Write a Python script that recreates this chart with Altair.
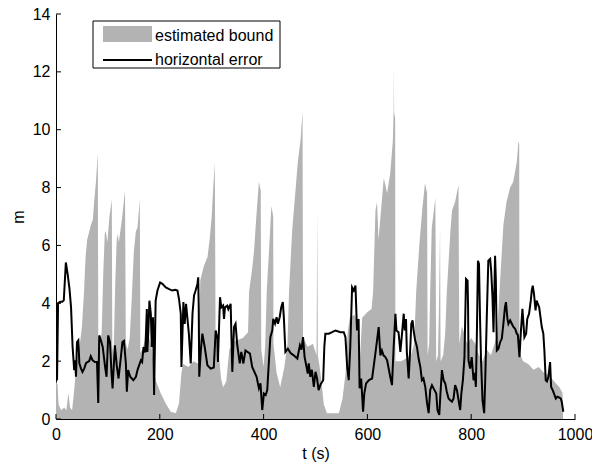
import altair as alt
import pandas as pd

# ---- estimated bound (grey area): (t [s], m) ----
bound = [
    (0, 1.3), (3, 1.2), (5, 0.5), (10, 0.3), (16, 0.4), (20, 0.3), (24, 0.9), (27, 0.4), (31, 0.3),
    (34, 0.8), (38, 1.6), (42, 2.2), (46, 2.6), (50, 3.2), (54, 4.4), (57, 5.6), (60, 6.2), (63, 6.4),
    (67, 6.7), (71, 6.9), (74, 7.6), (77, 8.2), (80.5, 9.2), (81.5, 2.8), (85, 2.6), (88, 3.0), (91, 5.0),
    (94, 6.4), (96, 6.5), (99, 6.1), (103, 7.0), (107.5, 7.6), (108.5, 2.5), (111, 2.2), (114, 4.6),
    (117, 6.2), (119, 6.4), (121, 6.1), (124, 6.5), (127, 6.9), (130, 7.4), (133, 7.9), (134.5, 2.6),
    (138, 2.4), (142, 2.8), (146, 4.2), (150, 5.8), (154, 6.5), (157, 6.6), (161.5, 7.6), (162.5, 2.3),
    (167, 2.4), (172, 2.8), (178, 2.9), (184, 2.5), (188, 1.9), (192, 1.34), (202, 0.88), (211.5, 0.54),
    (221, 0.25), (231, 0.2), (237, 0.54), (241.7, 1.6), (245, 1.9), (255, 1.8), (265, 2.0), (275, 1.9),
    (278, 4.8), (285, 5.3), (292, 5.6), (296, 6.2), (300, 7.0), (303, 8.0), (306, 8.85), (307.5, 2.8),
    (312, 2.6), (318, 1.4), (322, 1.1), (328, 1.3), (334, 2.4), (345, 2.7), (360, 2.8), (370, 3.0),
    (372, 4.4), (378, 5.2), (381.5, 5.8), (386, 7.0), (391, 8.2), (394.5, 7.9), (395.5, 2.4), (400, 1.8),
    (403, 2.5), (406, 4.4), (411, 6.0), (415, 7.36), (418.5, 7.0), (419, 2.6), (425, 1.6), (432, 1.1),
    (440, 1.8), (446, 2.6), (449, 4.4), (455, 6.5), (461, 7.8), (466, 8.9), (471, 9.6), (475, 10.63),
    (476, 2.8), (485, 2.5), (495, 2.6), (502, 2.2), (503.5, 7.2), (504.5, 2.2), (508, 1.8), (512, 1.2),
    (516, 0.5), (522, 0.2), (535, 0.2), (545, 0.2), (552, 0.7), (558, 1.6), (562, 3.0), (566, 3.5),
    (575, 3.6), (580, 3.4), (585, 1.9), (590, 3.5), (600, 3.7), (608, 3.8), (611, 4.4), (615.5, 7.2),
    (618.5, 7.5), (621.5, 6.2), (631.5, 8.33), (634.5, 8.1), (638, 7.8), (644, 8.5), (649, 9.6),
    (650.5, 10.6), (651, 12.2), (651.5, 10.6), (653.5, 10.4), (654, 2.0), (665, 2.0), (675, 2.1),
    (684, 2.2), (690, 2.6), (694, 4.4), (700, 6.0), (706, 7.3), (711, 8.16), (715, 7.8), (716, 2.2),
    (719, 2.6), (721, 4.4), (724, 6.6), (728, 7.2), (731, 7.65), (732.5, 2.0), (736, 2.2), (738, 4.0),
    (740, 6.6), (741, 2.0), (746, 2.2), (750, 3.0), (753, 4.4), (760, 6.5), (763, 7.2), (769, 7.5),
    (775.5, 8.1), (777, 2.6), (782, 3.2), (786, 3.0), (792, 2.6), (800, 2.8), (808, 2.6), (815, 2.2),
    (822, 2.0), (830, 2.4), (838, 2.2), (845, 2.6), (850, 3.0), (854.5, 4.4), (859, 5.8), (862, 6.7),
    (868, 7.5), (875, 8.0), (881, 8.2), (888, 8.9), (891, 9.6), (892.5, 9.5), (893, 2.3), (900, 2.0),
    (910, 1.9), (920, 1.7), (930, 1.8), (940, 1.6), (950, 1.5), (960, 1.3), (970, 1.1), (976, 0.9),
    (977, 0.0),
]

# ---- horizontal error (black line): (t [s], m) ----
error = [
    (2, 1.34), (4, 4.0), (8, 4.05), (12, 4.05), (15, 4.1), (19, 5.41), (22.5, 5.0), (26, 4.5), (29, 3.86),
    (32, 2.49), (34, 1.97), (35, 1.69), (37, 2.03), (38.5, 1.46), (40.4, 2.66), (43, 2.72), (45, 1.93),
    (48, 1.75), (51, 1.63), (54.5, 1.75), (58, 1.94), (64, 2.0), (67, 2.17), (70.5, 2.03), (75, 1.97),
    (79, 1.97), (81.4, 0.55), (83.3, 2.89), (86.5, 2.72), (90, 2.49), (95, 1.74), (97.4, 1.46),
    (100.6, 2.89), (104, 2.66), (107, 1.58), (109, 1.06), (113.5, 2.55), (117, 1.86), (120.5, 1.40),
    (125, 2.14), (128, 2.66), (131, 2.7), (134.6, 1.92), (136.5, 0.94), (139, 1.69), (143, 1.46),
    (149, 1.34), (154, 1.46), (157, 1.69), (163.5, 2.03), (166, 1.97), (168.6, 2.49), (172, 2.3),
    (175, 3.8), (176, 2.32), (178, 3.06), (180, 4.09), (182.7, 3.64), (184.6, 2.49), (187, 3.52),
    (189, 0.83), (192, 4.09), (195.5, 4.44), (200.6, 4.72), (205, 4.67), (211.5, 4.55), (218, 4.49),
    (224, 4.44), (229.5, 4.47), (234, 4.44), (237, 4.15), (240.4, 3.64), (241.7, 1.80), (245.5, 4.04),
    (248, 3.29), (250.6, 3.98), (253, 3.52), (256, 2.95), (259.6, 1.92), (263, 3.64), (266, 4.27),
    (269, 4.44), (272.5, 4.67), (274, 4.9), (275, 3.86), (276, 1.46), (279, 2.37), (282, 2.95),
    (286.5, 2.49), (291.7, 1.86), (298, 1.74), (304, 1.78), (307.7, 3.06), (311, 2.78), (312, 1.97),
    (316, 4.21), (318.6, 3.86), (322, 3.92), (323.7, 3.46), (325.6, 3.86), (330, 3.92), (332, 3.8),
    (336.5, 3.98), (339.7, 1.63), (343, 3.18), (346, 3.29), (349, 2.6), (354, 1.92), (357, 2.32),
    (361, 1.92), (365, 2.37), (373.7, 2.26), (378, 1.80), (386.5, 1.46), (391, 1.06), (394, 1.23),
    (397.4, 0.31), (400.6, 0.88), (404, 0.83), (407, 1.0), (410, 1.92), (413, 2.83), (416.7, 3.06),
    (418.6, 3.46), (422, 3.3), (425, 3.52), (427.6, 3.29), (431, 3.52), (434, 3.86), (437, 4.04),
    (439, 3.52), (442, 2.32), (446.8, 2.43), (452, 2.28), (458, 2.2), (465, 2.09), (470, 2.55),
    (473, 2.4), (476, 2.83), (479, 2.14), (482.7, 1.80), (485, 1.57), (487, 1.92), (490, 1.46),
    (493, 1.7), (496.8, 1.11), (500, 1.63), (503, 1.4), (506, 1.0), (510, 1.2), (514.8, 1.34),
    (517, 2.49), (519, 2.95), (525.6, 2.95), (532, 3.0), (538.5, 3.06), (548, 3.0), (554.5, 3.0),
    (557.7, 2.83), (561, 1.80), (564, 1.34), (567, 2.49), (570.5, 4.55), (573.7, 4.44), (577, 4.61),
    (580, 3.06), (583, 3.46), (585, 1.06), (588, 1.40), (591.7, 0.25), (594, 0.88), (597.5, 1.23),
    (602.6, 1.34), (609, 1.40), (612, 1.80), (617, 2.49), (621.7, 3.18), (625, 2.2), (628, 2.37),
    (631, 2.2), (634.6, 2.14), (638, 2.03), (644, 1.46), (647.4, 1.17), (650.6, 2.49), (654, 3.64),
    (656, 3.06), (660, 3.0), (663.5, 2.32), (666.7, 2.95), (670, 3.64), (672, 3.06), (674.4, 3.46),
    (676, 2.32), (679.5, 1.40), (682.7, 2.49), (684.6, 3.29), (687, 3.41), (689, 3.06), (692, 2.72),
    (695.5, 2.49), (698.7, 2.09), (702, 1.80), (705, 1.34), (708, 1.4), (711.5, 1.11), (715, 0.54),
    (718, 0.20), (721, 1.0), (724.4, 1.17), (727.5, 1.06), (732.7, 0.88), (735, 0.31), (738.5, 0.14),
    (740.4, 0.77), (743.6, 1.69), (746.8, 1.34), (750, 1.23), (753, 0.94), (756.4, 0.71), (759.6, 0.65),
    (763, 0.60), (766, 0.71), (769, 1.17), (772.5, 1.0), (775.6, 0.65), (778.8, 0.31), (781, 0.88),
    (784, 1.34), (787, 2.14), (790, 4.84), (793, 4.78), (794, 3.86), (794.8, 2.03), (798, 1.74),
    (801, 2.14), (804.5, 1.34), (807, 1.6), (809, 1.11), (811, 3.0), (813, 5.47), (815, 5.36),
    (817, 3.5), (819, 2.0), (821.8, 0.65), (825, 0.20), (827, 1.34), (830, 3.5), (833, 5.47),
    (836.5, 5.53), (838.5, 5.13), (841, 4.21), (843, 3.0), (846, 5.64), (847.5, 4.78), (849.4, 2.37),
    (852.5, 2.43), (855.8, 2.66), (859, 2.78), (862, 3.29), (865, 3.86), (867, 4.04), (869.8, 3.46),
    (871.7, 3.29), (875, 3.41), (878, 3.3), (881.4, 3.18), (884.6, 3.12), (887.8, 2.95), (890, 2.9),
    (893, 2.14), (895.5, 2.95), (898.7, 3.81), (902.5, 2.83), (905.8, 2.95), (908, 3.46), (911.5, 3.64),
    (914.8, 4.09), (916.7, 4.44), (918.6, 4.61), (921, 4.32), (924, 3.75), (926, 4.09), (928, 4.0),
    (931, 3.86), (936, 3.18), (939, 2.95), (941, 2.37), (943.6, 1.34), (946, 1.3), (948.7, 1.46),
    (952, 1.97), (954, 1.11), (957, 1.0), (959.6, 0.88), (963, 0.71), (966, 0.77), (969, 0.75),
    (972.5, 0.71), (974.4, 0.60), (977.5, 0.25),
]

x_ticks = [0, 200, 400, 600, 800, 1000]
y_ticks = [0, 2, 4, 6, 8, 10, 12, 14]
legend_labels = ["estimated bound", "horizontal error"]

W, H = 519, 405
GREY = "#b3b3b3"
FONT = "Liberation Sans"
FS = 16

xs = alt.Scale(domain=[0, 1000], nice=False)
ys = alt.Scale(domain=[0, 14], nice=False)

bound_df = pd.DataFrame(bound, columns=["t", "m"])
err_df = pd.DataFrame(error, columns=["t", "m"])
xt_df = pd.DataFrame({"v": x_ticks})
yt_df = pd.DataFrame({"v": y_ticks})
one = pd.DataFrame({"k": [0]})

area = alt.Chart(bound_df).mark_area(color=GREY, interpolate="linear").encode(
    x=alt.X("t:Q", scale=xs, title="t (s)",
            axis=alt.Axis(values=x_ticks, format="d", ticks=False, grid=False, labelFlush=False,
                          labelOverlap=False, labelPadding=7, titlePadding=3)),
    y=alt.Y("m:Q", scale=ys, title="m",
            axis=alt.Axis(values=y_ticks, format="d", ticks=False, grid=False, labelFlush=False,
                          labelOverlap=False, labelPadding=6, titlePadding=6)),
)

line = alt.Chart(err_df).mark_line(color="black", strokeWidth=2).encode(
    x=alt.X("t:Q", scale=xs), y=alt.Y("m:Q", scale=ys)
)

xtick = alt.Chart(xt_df).mark_rule(color="black", strokeWidth=1).encode(
    x=alt.X("v:Q", scale=xs), y=alt.value(H), y2=alt.value(H - 5)
)
ytick = alt.Chart(yt_df).mark_rule(color="black", strokeWidth=1).encode(
    y=alt.Y("v:Q", scale=ys), x=alt.value(0), x2=alt.value(5)
)

leg_box = alt.Chart(one).mark_rect(fill="white", stroke="black", strokeWidth=1).encode(
    x=alt.value(37), x2=alt.value(224), y=alt.value(7), y2=alt.value(54)
)
leg_patch = alt.Chart(one).mark_rect(fill=GREY).encode(
    x=alt.value(47), x2=alt.value(96), y=alt.value(12), y2=alt.value(28)
)
leg_line = alt.Chart(one).mark_rule(color="black", strokeWidth=2).encode(
    x=alt.value(47), x2=alt.value(96), y=alt.value(46)
)
leg_text1 = alt.Chart(one).mark_text(align="left", baseline="alphabetic", font=FONT, fontSize=FS).encode(
    x=alt.value(99), y=alt.value(26.5), text=alt.value(legend_labels[0])
)
leg_text2 = alt.Chart(one).mark_text(align="left", baseline="alphabetic", font=FONT, fontSize=FS).encode(
    x=alt.value(99), y=alt.value(51), text=alt.value(legend_labels[1])
)

chart = alt.layer(area, line, xtick, ytick, leg_box, leg_patch, leg_line, leg_text1, leg_text2).properties(
    width=W, height=H,
    padding={"left": 48, "top": 6, "right": 17, "bottom": 43},
    autosize=alt.AutoSizeParams(type="none"),
).configure_view(stroke=None).configure_axis(
    labelFont=FONT, titleFont=FONT, labelFontSize=FS, titleFontSize=FS,
    titleFontWeight="normal", labelColor="black", titleColor="black",
    domainColor="black", domainWidth=1,
)

chart.save("out.html", embed_options={"renderer": "svg", "actions": False})
